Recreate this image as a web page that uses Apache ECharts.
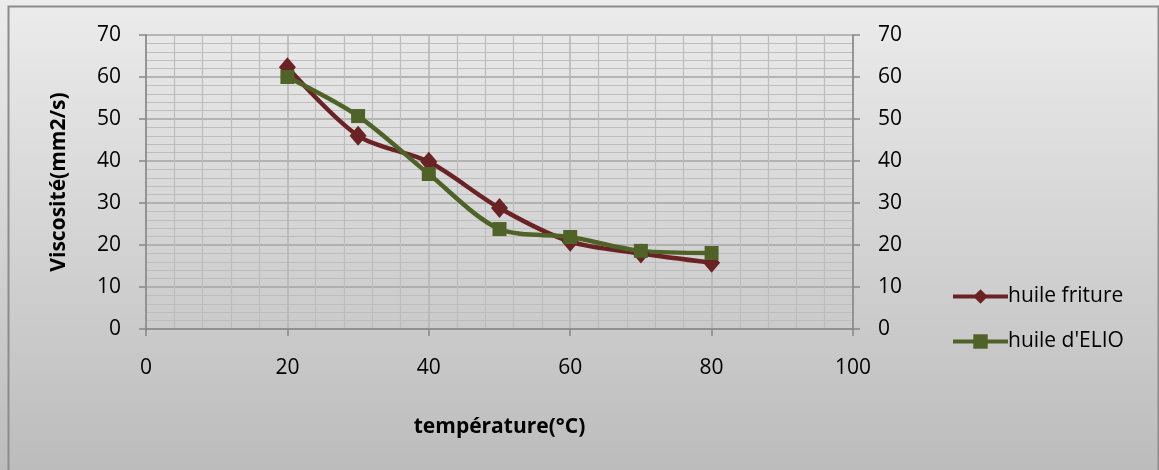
<!DOCTYPE html>
<html>
<head>
<meta charset="utf-8">
<script src="https://cdn.jsdelivr.net/npm/echarts@6/dist/echarts.min.js"></script>
<style>
  html, body { margin: 0; padding: 0; background: #fff; }
  #chart { width: 1159px; height: 470px; }
</style>
</head>
<body>
<div id="chart"></div>
<script>
var temperatures = [20, 30, 40, 50, 60, 70, 80];
var huileFriture = [62.3, 46, 39.8, 28.8, 20.8, 18, 15.8];
var huileElio = [60, 50.7, 36.9, 23.8, 21.9, 18.6, 18.1];
var seriesNames = ['huile friture', "huile d'ELIO"];

var font = 'Open Sans';
var red = '#6a2224';
var green = '#4f6228';
var labelSize = 21;

function pairs(xs, ys) {
  return xs.map(function(x, i) { return [x, ys[i]]; });
}

var chart = echarts.init(document.getElementById('chart'), null, { renderer: 'canvas' });

function yAxis(pos) {
  return {
    type: 'value', position: pos, min: 0, max: 70, interval: 10,
    axisLine: { show: true, lineStyle: { color: '#868686', width: 1.5 } },
    axisTick: { show: true, length: 7, lineStyle: { color: '#868686', width: 1.5 } },
    axisLabel: { color: '#000', fontSize: labelSize, fontFamily: font, margin: 25 },
    splitLine: { show: pos === 'left', lineStyle: { color: '#a4a4a4', width: 1.5 } },
    minorTick: { show: false, splitNumber: 5 },
    minorSplitLine: { show: pos === 'left', lineStyle: { color: '#bdbdbd', width: 1.2 } }
  };
}

var yLeft = yAxis('left');
yLeft.name = 'Viscosité(mm2/s)';
yLeft.nameLocation = 'middle';
yLeft.nameGap = 76;
yLeft.nameTextStyle = { fontSize: labelSize, fontWeight: 'bold', fontFamily: font, color: '#000' };

chart.setOption({
  animation: false,
  backgroundColor: {
    type: 'linear', x: 0, y: 0, x2: 0, y2: 1,
    colorStops: [{ offset: 0, color: '#ececec' }, { offset: 1, color: '#bcbcbc' }]
  },
  graphic: [{
    type: 'rect', left: 6, top: 4,
    shape: { width: 1150, height: 480 },
    style: { fill: 'none', stroke: '#8c8c8c', lineWidth: 2 }
  }],
  grid: { left: 146, right: 306, top: 35, bottom: 141 },
  legend: {
    orient: 'vertical', left: 946, top: 281, itemGap: 24,
    itemWidth: 55, itemHeight: 18,
    data: seriesNames,
    lineStyle: { width: 4 },
    textStyle: { color: '#000', fontSize: labelSize, fontFamily: font, padding: [0, 0, 0, -5] }
  },
  xAxis: {
    type: 'value', min: 0, max: 100, interval: 20,
    name: 'température(°C)', nameLocation: 'middle', nameGap: 88,
    nameTextStyle: { fontSize: labelSize, fontWeight: 'bold', fontFamily: font, color: '#000' },
    axisLine: { show: true, onZero: false, lineStyle: { color: '#868686', width: 1.5 } },
    axisTick: { show: true, length: 7, lineStyle: { color: '#868686', width: 1.5 } },
    axisLabel: { color: '#000', fontSize: labelSize, fontFamily: font, margin: 29 },
    splitLine: { show: true, lineStyle: { color: '#b4b4b4', width: 1.5 } },
    minorTick: { show: false, splitNumber: 5 },
    minorSplitLine: { show: true, lineStyle: { color: '#bdbdbd', width: 1.2 } }
  },
  yAxis: [yLeft, yAxis('right')],
  series: [
    {
      name: seriesNames[0], type: 'line', smooth: 0.3,
      data: pairs(temperatures, huileFriture),
      symbol: 'diamond', symbolSize: [17, 20],
      lineStyle: { color: red, width: 4.5 },
      itemStyle: { color: red }
    },
    {
      name: seriesNames[1], type: 'line', smooth: 0.3,
      data: pairs(temperatures, huileElio),
      symbol: 'rect', symbolSize: 14,
      lineStyle: { color: green, width: 4.5 },
      itemStyle: { color: green }
    }
  ]
});
</script>
</body>
</html>
